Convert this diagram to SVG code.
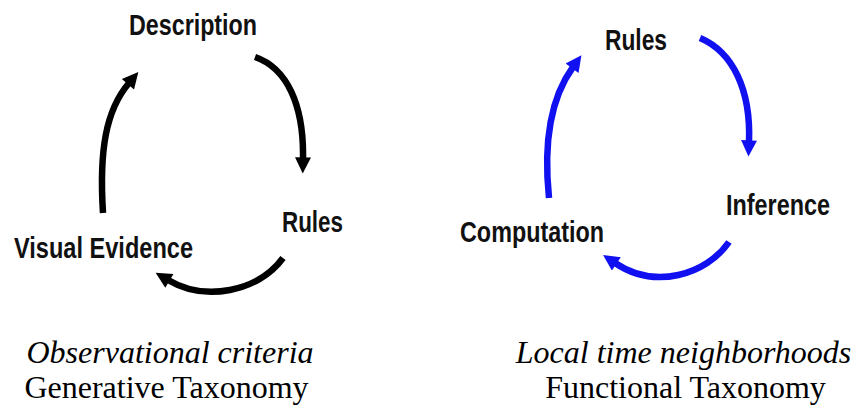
<svg xmlns="http://www.w3.org/2000/svg" width="854" height="410" viewBox="0 0 854 410">
<style>
.lbl{font-family:"Liberation Sans",Arial,sans-serif;font-weight:bold;font-size:29px;fill:#111}
.cap{font-family:"Liberation Serif","Times New Roman",serif;font-size:32px;fill:#000;text-anchor:middle}
.it{font-style:italic}
.blk{fill:none;stroke:#000;stroke-width:6.5;stroke-linecap:butt}
.blu{fill:none;stroke:#1010f0;stroke-width:6.5;stroke-linecap:butt}
</style>
<defs>
<marker id="ah" viewBox="0 0 10 10" refX="1" refY="5" markerWidth="19" markerHeight="16" markerUnits="userSpaceOnUse" orient="auto"><path d="M0,0 L10,5 L0,10 z" fill="#000"/></marker>
<marker id="ahb" viewBox="0 0 10 10" refX="1" refY="5" markerWidth="19" markerHeight="16" markerUnits="userSpaceOnUse" orient="auto"><path d="M0,0 L10,5 L0,10 z" fill="#1010f0"/></marker>
</defs>
<rect width="854" height="410" fill="#fff"/>
<g id="connectors">
<path class="blk" d="M255,57 C287,68 304,105 303,159" marker-end="url(#ah)"/>
<path class="blk" d="M283,258 C258,292 205,302 168,280" marker-end="url(#ah)"/>
<path class="blk" d="M103,213 C99,150 106,110 129,83" marker-end="url(#ah)"/>
<path class="blu" d="M700,38 C733,52 751,90 749,142" marker-end="url(#ahb)"/>
<path class="blu" d="M729,242 C706,275 655,290 615,263" marker-end="url(#ahb)"/>
<path class="blu" d="M549,198 C543,140 552,96 573,67" marker-end="url(#ahb)"/>
</g>
<g id="n-description"><text class="lbl" x="129" y="35" textLength="128" lengthAdjust="spacingAndGlyphs">Description</text></g>
<g id="n-rules-left"><text class="lbl" x="282" y="232" textLength="61" lengthAdjust="spacingAndGlyphs">Rules</text></g>
<g id="n-visual-evidence"><text class="lbl" x="14" y="258" textLength="179" lengthAdjust="spacingAndGlyphs">Visual Evidence</text></g>
<g id="n-rules-right"><text class="lbl" x="605" y="50" textLength="62" lengthAdjust="spacingAndGlyphs">Rules</text></g>
<g id="n-inference"><text class="lbl" x="726" y="215" textLength="104" lengthAdjust="spacingAndGlyphs">Inference</text></g>
<g id="n-computation"><text class="lbl" x="460" y="242" textLength="144" lengthAdjust="spacingAndGlyphs">Computation</text></g>
<g id="caption-left">
<text class="cap it" x="170" y="363">Observational criteria</text>
<text class="cap" x="166.5" y="398">Generative Taxonomy</text>
</g>
<g id="caption-right">
<text class="cap it" x="683.5" y="363">Local time neighborhoods</text>
<text class="cap" x="685.5" y="398">Functional Taxonomy</text>
</g>
</svg>
